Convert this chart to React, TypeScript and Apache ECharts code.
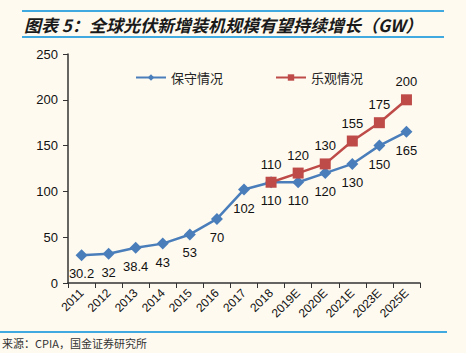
import React, { useEffect, useRef } from "react";
import * as echarts from "echarts";

const categories = ["2011", "2012", "2013", "2014", "2015", "2016", "2017", "2018", "2019E", "2020E", "2021E", "2023E", "2025E"];
const conservative = [30.2, 32, 38.4, 43, 53, 70, 102, 110, 110, 120, 130, 150, 165];
const optimistic = [null, null, null, null, null, null, null, 110, 120, 130, 155, 175, 200];
const yTicks = { min: 0, max: 250, interval: 50 };

export default function App() {
  const ref = useRef<HTMLDivElement>(null);
  useEffect(() => {
    const chart = echarts.init(ref.current!, null, { renderer: "svg" });
    const font = "Arial, 'Liberation Sans', 'Noto Sans CJK SC', sans-serif";
    chart.setOption({
      animation: false,
      backgroundColor: "#FEFAF0",
      textStyle: { fontFamily: font },
      graphic: [
        { type: "line", shape: { x1: 22, y1: 11, x2: 444, y2: 11 }, style: { stroke: "#3FA9E0", lineWidth: 2 } },
        { type: "line", shape: { x1: 22, y1: 37, x2: 444, y2: 37 }, style: { stroke: "#3FA9E0", lineWidth: 2 } },
        {
          type: "text", x: 24, y: 24,
          style: { text: "图表 5：全球光伏新增装机规模有望持续增长（GW）", font: "italic bold 17px 'Noto Sans CJK SC', sans-serif", fill: "#1a1a1a", verticalAlign: "middle" },
        },
        { type: "line", shape: { x1: 0, y1: 332, x2: 447, y2: 332 }, style: { stroke: "#3FA9E0", lineWidth: 2 } },
        {
          type: "text", x: 2, y: 343,
          style: { text: "来源：CPIA，国金证券研究所", font: "11px 'Noto Sans CJK SC', sans-serif", fill: "#333", verticalAlign: "middle" },
        },
      ],
      legend: {
        top: 66,
        left: 130,
        itemGap: 52,
        itemWidth: 30,
        itemHeight: 8,
        textStyle: { fontSize: 13, color: "#222", fontFamily: "'Noto Sans CJK SC', sans-serif" },
        data: ["保守情况", "乐观情况"],
      },
      grid: { left: 68, right: 46, top: 54, bottom: 70 },
      xAxis: {
        type: "category",
        data: categories,
        boundaryGap: true,
        axisLine: { lineStyle: { color: "#333", width: 1.5 } },
        axisTick: { show: true, interval: 0, length: 5, lineStyle: { color: "#333" } },
        axisLabel: { interval: 0, rotate: 45, fontSize: 12, color: "#111", margin: 8 },
      },
      yAxis: {
        type: "value",
        min: yTicks.min,
        max: yTicks.max,
        interval: yTicks.interval,
        splitLine: { show: false },
        axisLine: { show: true, lineStyle: { color: "#333", width: 1.5 } },
        axisTick: { show: true, length: 5, lineStyle: { color: "#333" } },
        axisLabel: { fontSize: 13, color: "#111", margin: 10 },
      },
      series: [
        {
          name: "保守情况",
          type: "line",
          data: conservative,
          symbol: "diamond",
          symbolSize: 12,
          color: "#4A7EBB",
          lineStyle: { width: 2.5, color: "#4A7EBB" },
          itemStyle: { color: "#4A7EBB" },
          label: { show: true, position: "bottom", distance: 6, fontSize: 13, color: "#111" },
        },
        {
          name: "乐观情况",
          type: "line",
          data: optimistic,
          symbol: "rect",
          symbolSize: 11,
          color: "#BE4B48",
          lineStyle: { width: 2.5, color: "#BE4B48" },
          itemStyle: { color: "#BE4B48" },
          label: { show: true, position: "top", distance: 6, fontSize: 13, color: "#111" },
        },
      ],
    });
    return () => chart.dispose();
  }, []);
  return <div ref={ref} style={{ width: 466, height: 353, position: "absolute", left: 0, top: 0 }} />;
}
